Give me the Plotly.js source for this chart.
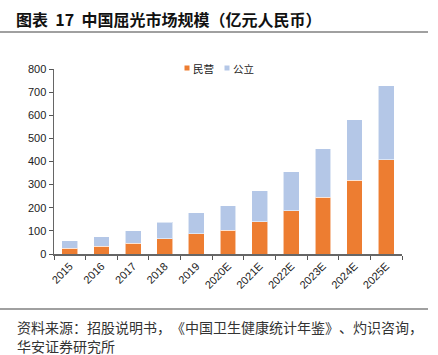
<!DOCTYPE html>
<html>
<head>
<meta charset="utf-8">
<script src="https://cdn.plot.ly/plotly-3.0.1.min.js"></script>
<style>
html,body{margin:0;padding:0;background:#fff;}
#chart{width:438px;height:355px;}
text{text-spacing-trim: space-all;}
</style>
</head>
<body>
<div id="chart"></div>
<script>
const years = ["2015","2016","2017","2018","2019","2020E","2021E","2022E","2023E","2024E","2025E"];
const privateVals = [24, 33, 46, 65, 88, 102, 140, 186, 245, 318, 408];
const publicVals  = [33, 42, 54, 72, 91, 106, 133, 169, 211, 262, 320];
const yTicks = [0,100,200,300,400,500,600,700,800];
const seriesNames = ["民营", "公立"];
const colors = ["#ED7D31", "#B4C7E7"];

const W = 438, H = 355;
const M = {l: 54, r: 36, t: 69, b: 101};
const pw = W - M.l - M.r, ph = H - M.t - M.b;
const px = x => (x - M.l) / pw;
const py = y => (H - M.b - y) / ph;

const cjk = '"Noto Sans CJK SC", "Noto Sans", sans-serif';
const latin = '"Liberation Sans", Arial, sans-serif';

const traces = [
  {type: 'bar', x: years, y: privateVals, name: seriesNames[0], showlegend: false,
   marker: {color: colors[0], line: {color: 'rgba(255,255,255,0.55)', width: 1}}},
  {type: 'bar', x: years, y: publicVals, name: seriesNames[1], showlegend: false,
   marker: {color: colors[1], line: {color: 'rgba(255,255,255,0.55)', width: 1}}}
];

// legend (drawn as small squares + labels, matching the reference's compact key)
const legendX = [187, 227];
const legendY = 68;
const legendShapes = seriesNames.map((n, i) => ({
  type: 'rect', xref: 'paper', yref: 'paper',
  x0: px(legendX[i] - 2.5), x1: px(legendX[i] + 2.5),
  y0: py(legendY + 2.5), y1: py(legendY - 2.5),
  fillcolor: colors[i], line: {width: 0}
}));
const legendAnns = seriesNames.map((n, i) => ({
  xref: 'paper', yref: 'paper', x: px(legendX[i] + 4), y: py(legendY),
  xanchor: 'left', yanchor: 'middle', showarrow: false,
  text: n, font: {family: cjk, size: 10.5, color: '#222'}
}));

const layout = {
  width: W, height: H,
  margin: M,
  paper_bgcolor: '#fff', plot_bgcolor: '#fff',
  barmode: 'stack',
  bargap: 0.5,
  showlegend: false,
  font: {family: latin, size: 11, color: '#222'},
  title: {
    text: '<b>图表\u00a0\u00a017\u00a0\u00a0中国屈光市场规模（亿元人民币）</b>',
    font: {family: cjk, size: 16, color: '#111'},
    x: 16 / W, xanchor: 'left', xref: 'container',
    y: 1 - 20 / H, yanchor: 'middle', yref: 'container'
  },
  xaxis: {
    type: 'category',
    tickson: 'boundaries',
    ticks: 'outside', ticklen: 4, tickcolor: '#555', tickwidth: 1,
    showline: true, linecolor: '#666', linewidth: 1.5,
    showgrid: false, zeroline: false,
    tickangle: -45,
    tickfont: {family: latin, size: 11, color: '#222'},
    fixedrange: true
  },
  yaxis: {
    range: [0, 800],
    tickvals: yTicks,
    ticks: 'outside', ticklen: 4, tickcolor: '#555',
    showline: true, linecolor: '#666', linewidth: 1.5,
    showgrid: false, zeroline: false,
    tickfont: {family: latin, size: 11, color: '#222'},
    fixedrange: true
  },
  shapes: [
    {type: 'line', xref: 'paper', yref: 'paper', x0: px(0), x1: px(428), y0: py(32), y1: py(32),
     line: {color: '#808080', width: 1.5}},
    {type: 'line', xref: 'paper', yref: 'paper', x0: px(0), x1: px(428), y0: py(309), y1: py(309),
     line: {color: '#808080', width: 1.5}}
  ].concat(legendShapes),
  annotations: [
    {xref: 'paper', yref: 'paper', x: px(15), y: py(327), xanchor: 'left', yanchor: 'middle',
     showarrow: false, align: 'left',
     text: '资料来源：招股说明书，《中国卫生健康统计年鉴》、灼识咨询，',
     font: {family: cjk, size: 14, color: '#333'}},
    {xref: 'paper', yref: 'paper', x: px(15), y: py(346), xanchor: 'left', yanchor: 'middle',
     showarrow: false, align: 'left',
     text: '华安证券研究所',
     font: {family: cjk, size: 14, color: '#333'}}
  ].concat(legendAnns)
};

Plotly.newPlot('chart', traces, layout, {displayModeBar: false, staticPlot: true});
</script>
</body>
</html>
